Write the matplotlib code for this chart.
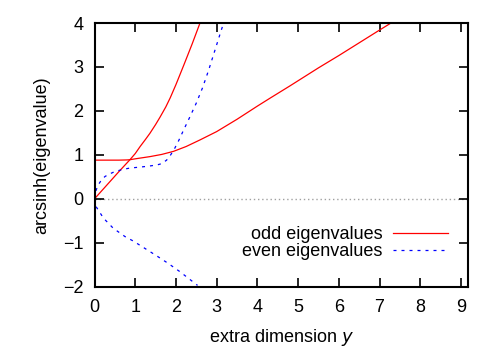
import matplotlib.pyplot as plt

plt.rcParams['font.family'] = ['Liberation Sans', 'DejaVu Sans']

# odd eigenvalues, branch 1 (flat, then slowly rising)
odd1_x = [0.0, 0.3, 0.6, 0.8, 0.87, 1.0, 1.36, 1.65, 1.94, 2.25, 2.59, 3.0, 3.5, 4.0, 4.31, 4.8, 5.5, 6.0, 6.5, 7.0, 7.28]
odd1_y = [0.88, 0.88, 0.88, 0.885, 0.89, 0.91, 0.96, 1.01, 1.08, 1.19, 1.34, 1.53, 1.81, 2.11, 2.29, 2.57, 2.98, 3.26, 3.55, 3.84, 4.0]
# odd eigenvalues, branch 2 (from origin, then steep)
odd2_x = [0.0, 0.3, 0.6, 0.8, 0.87, 1.0, 1.12, 1.25, 1.36, 1.5, 1.61, 1.75, 1.86, 2.0, 2.2, 2.4, 2.59]
odd2_y = [0.0, 0.31, 0.62, 0.82, 0.89, 1.03, 1.19, 1.35, 1.49, 1.69, 1.86, 2.09, 2.3, 2.6, 3.06, 3.53, 4.0]
# even eigenvalues, upper branch
even1_x = [0.0, 0.04, 0.1, 0.18, 0.26, 0.38, 0.5, 0.7, 0.87, 1.1, 1.3, 1.53, 1.65, 1.77, 1.87, 1.97, 2.07, 2.18, 2.35, 2.5, 2.65, 2.8, 2.95, 3.1, 3.17]
even1_y = [0.0, 0.2, 0.33, 0.44, 0.51, 0.57, 0.62, 0.67, 0.70, 0.72, 0.74, 0.77, 0.80, 0.88, 1.0, 1.15, 1.33, 1.55, 1.88, 2.18, 2.52, 2.92, 3.36, 3.8, 4.0]
# even eigenvalues, lower branch
even2_x = [0.0, 0.04, 0.22, 0.46, 0.75, 0.95, 1.24, 1.53, 1.81, 2.1, 2.53]
even2_y = [0.0, -0.18, -0.44, -0.67, -0.86, -0.96, -1.13, -1.30, -1.47, -1.66, -1.97]

fig = plt.figure(figsize=(4.98, 3.49), dpi=100)
ax = fig.add_axes([0.1898, 0.1785, 0.7506, 0.7555])

ax.axhline(0, color='#a0a0a0', lw=1, ls=(0, (1, 2)), zorder=1)
ax.plot(odd1_x, odd1_y, color='#ff0000', lw=0.9, label='odd eigenvalues')
ax.plot(odd2_x, odd2_y, color='#ff0000', lw=0.9)
ax.plot(even1_x, even1_y, color='#0000ff', lw=0.9, ls=(0, (2.4, 4)), label='even eigenvalues')
ax.plot(even2_x, even2_y, color='#0000ff', lw=0.9, ls=(0, (2.4, 4)))

ax.set_xlim(0, 9.18)
ax.set_ylim(-2, 4)
ax.set_xticks(range(0, 10))
ax.set_yticks(range(-2, 5))
ax.tick_params(direction='in', length=6.3, width=1.2, top=True, right=True, labelsize=13)
ax.tick_params(axis='x', pad=9)
ax.tick_params(axis='y', pad=8)
for s in ax.spines.values():
    s.set_linewidth(1.5)

ax.set_xlabel('extra dimension $\\mathit{y}$', fontsize=13, labelpad=8)
ax.set_ylabel('arcsinh(eigenvalue)', fontsize=13, labelpad=9)

leg = ax.legend(loc='lower right', bbox_to_anchor=(0.99, 0.04), frameon=False, fontsize=13,
                markerfirst=False, handlelength=3.05, labelspacing=0.0, handletextpad=0.6)
for t in leg.get_texts():
    t.set_ha('right')

fig.savefig('out.png')
